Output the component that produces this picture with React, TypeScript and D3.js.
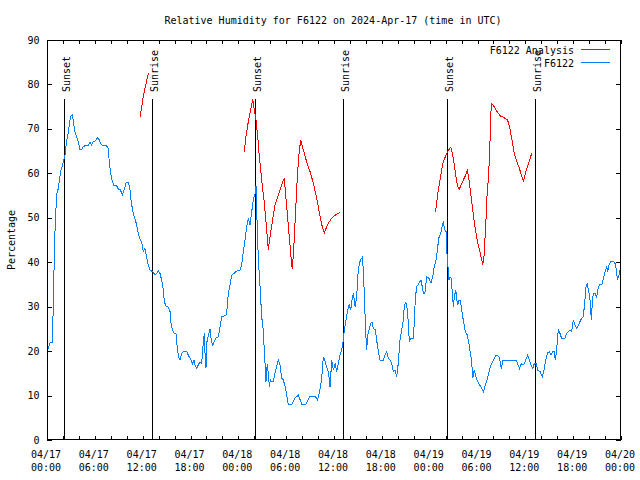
import React from "react";
import * as d3 from "d3";

// ---- data ----
const title = "Relative Humidity for F6122 on 2024-Apr-17 (time in UTC)";
const yLabel = "Percentage";
const seriesNames = ["F6122 Analysis", "F6122"];

// hours since 2024-04-17 00:00 UTC
const xMajorTicks = [0, 6, 12, 18, 24, 30, 36, 42, 48, 54, 60, 66, 72];
const xDateLabels = ["04/17", "04/17", "04/17", "04/17", "04/18", "04/18", "04/18", "04/18", "04/19", "04/19", "04/19", "04/19", "04/20"];
const xTimeLabels = ["00:00", "06:00", "12:00", "18:00", "00:00", "06:00", "12:00", "18:00", "00:00", "06:00", "12:00", "18:00", "00:00"];
const yTicks = [0, 10, 20, 30, 40, 50, 60, 70, 80, 90];

const sunEventHours = [2.15, 13.2, 26.05, 37.15, 50.2, 61.22];
const sunEventLabels = ["Sunset", "Sunrise", "Sunset", "Sunrise", "Sunset", "Sunrise"];

const obsHours = [
  0.08, 0.38, 0.67, 0.75, 0.88, 1.0, 1.13, 1.25, 1.42, 1.59, 1.76, 2.05, 2.26, 2.43, 2.68, 2.84, 3.01, 3.18, 3.34, 3.51,
  3.72, 3.93, 4.14, 4.35, 4.56, 4.77, 5.18, 5.39, 5.6, 5.81, 6.1, 6.36, 6.56, 6.77, 7.07, 7.48, 7.69, 7.82, 7.99, 8.2,
  8.4, 8.74, 8.95, 9.2, 9.45, 9.7, 9.95, 10.2, 10.37, 10.54, 10.7, 10.87, 11.04, 11.25, 11.45, 11.67, 11.88, 12.08, 12.29, 12.5,
  12.71, 12.92, 13.25, 13.55, 13.76, 13.96, 14.17, 14.38, 14.59, 14.72, 14.93, 15.22, 15.43, 15.55, 15.72, 15.93, 16.18, 16.35, 16.52, 16.68,
  16.9, 17.1, 17.52, 17.72, 17.94, 18.15, 18.27, 18.44, 18.56, 18.77, 18.98, 19.19, 19.4, 19.61, 19.73, 19.82, 19.94, 20.03, 20.24, 20.45,
  20.57, 20.78, 20.95, 21.2, 21.49, 21.7, 21.91, 22.45, 22.62, 22.74, 22.96, 23.17, 23.46, 23.8, 24.2, 24.42, 24.62, 24.84, 25.05, 25.25,
  25.46, 25.68, 25.88, 26.1, 26.22, 26.3, 26.5, 26.72, 26.93, 27.13, 27.26, 27.38, 27.47, 27.63, 27.76, 27.89, 28.01, 28.18, 28.39, 28.6,
  28.81, 29.02, 29.23, 29.44, 29.64, 29.94, 30.07, 30.27, 30.69, 31.11, 31.53, 31.95, 32.49, 32.99, 33.62, 33.95, 34.24, 34.46, 34.66, 34.83,
  35.0, 35.33, 35.5, 35.72, 35.92, 36.13, 36.34, 36.54, 36.75, 36.97, 37.17, 37.3, 37.5, 37.71, 37.91, 38.1, 38.26, 38.43, 38.64, 38.85,
  38.97, 39.18, 39.39, 39.55, 39.68, 39.8, 39.98, 40.1, 40.23, 40.6, 40.76, 40.93, 41.18, 41.35, 41.56, 41.77, 42.19, 42.4, 42.61, 42.82,
  43.03, 43.24, 43.44, 43.65, 43.86, 44.06, 44.28, 44.49, 44.69, 44.82, 45.0, 45.2, 45.32, 45.45, 45.62, 45.96, 46.08, 46.21, 46.39, 46.66,
  46.92, 47.21, 47.4, 47.63, 47.9, 48.17, 48.38, 48.58, 48.8, 48.96, 49.14, 49.38, 49.59, 49.71, 49.88, 50.05, 50.13, 50.26, 50.43, 50.55,
  50.7, 50.84, 50.97, 51.1, 51.27, 51.4, 51.52, 51.69, 51.8, 51.94, 52.15, 52.32, 52.48, 52.73, 52.91, 53.07, 53.24, 53.42, 53.58, 53.75,
  53.92, 54.13, 54.34, 54.55, 54.76, 54.97, 55.18, 55.39, 55.6, 55.81, 56.02, 56.23, 56.52, 56.77, 56.98, 57.2, 58.84, 59.09, 59.26, 59.51,
  59.8, 60.05, 60.3, 60.5, 60.71, 60.92, 61.13, 61.35, 61.55, 61.84, 62.13, 62.34, 62.55, 62.76, 63.01, 63.22, 63.43, 63.6, 63.76, 63.93,
  64.13, 64.34, 64.55, 64.97, 65.18, 65.39, 65.6, 65.8, 66.02, 66.23, 66.44, 66.77, 67.06, 67.27, 67.48, 67.61, 67.77, 67.95, 68.12, 68.28,
  68.4, 68.53, 68.74, 68.95, 69.08, 69.28, 69.58, 69.79, 70.0, 70.21, 70.33, 70.5, 70.71, 71.13, 71.34, 71.47, 71.59, 71.76, 71.89,
];
const obsValues = [
  20.1, 21.9, 21.9, 27.4, 38.4, 46.7, 52.1, 55.5, 56.6, 58.9, 60.7, 62.6, 64.1, 66.8, 69.4, 71.6, 72.9, 73.1, 71.3, 69.4,
  68.1, 67.1, 65.3, 65.3, 66.0, 66.2, 66.2, 67.1, 66.4, 67.1, 67.3, 68.1, 67.5, 66.6, 66.2, 66.2, 65.6, 62.3, 60.0, 58.1,
  57.2, 57.2, 56.4, 56.3, 55.1, 56.4, 58.0, 58.0, 56.9, 54.0, 52.1, 50.6, 49.7, 48.4, 46.5, 45.2, 44.5, 42.4, 43.1, 41.0,
  39.4, 38.2, 37.9, 37.1, 37.5, 38.1, 37.5, 36.0, 33.8, 31.1, 30.1, 29.9, 28.9, 26.3, 24.8, 24.0, 24.0, 20.6, 18.7, 18.0,
  19.5, 19.9, 19.9, 19.1, 18.4, 17.6, 17.1, 18.0, 16.9, 16.1, 16.9, 17.6, 17.2, 22.1, 24.0, 19.5, 16.1, 21.8, 23.6, 24.9,
  22.9, 21.1, 22.1, 22.9, 23.2, 25.5, 27.7, 28.1, 30.0, 33.0, 35.0, 37.1, 37.5, 38.0, 38.1, 39.4, 42.4, 45.0, 48.0, 49.9,
  48.4, 51.4, 54.0, 55.5, 57.2, 51.8, 41.2, 34.5, 27.7, 24.8, 19.9, 16.5, 13.1, 17.2, 15.0, 12.0, 13.5, 13.1, 13.1, 15.0,
  16.5, 18.0, 16.9, 13.9, 13.5, 11.6, 10.1, 7.9, 7.9, 9.4, 10.1, 8.1, 8.1, 9.9, 9.9, 9.0, 11.3, 13.9, 18.7, 18.0,
  16.9, 15.0, 12.0, 18.0, 15.7, 17.2, 15.4, 17.2, 19.1, 20.3, 22.5, 24.8, 27.0, 29.3, 30.4, 29.3, 31.5, 33.0, 30.0, 32.2,
  36.7, 39.8, 40.7, 41.1, 38.3, 33.0, 24.0, 20.3, 23.6, 26.3, 26.6, 25.1, 24.8, 22.5, 19.9, 18.0, 18.0, 19.1, 19.9, 18.4,
  18.0, 17.2, 15.4, 15.7, 14.2, 17.2, 22.5, 24.8, 27.0, 30.0, 31.1, 29.3, 26.3, 22.1, 22.9, 22.9, 27.0, 32.2, 34.5, 35.3,
  36.0, 33.0, 33.0, 36.7, 36.4, 35.3, 36.7, 39.0, 40.5, 42.7, 45.4, 46.5, 48.4, 49.0, 47.4, 46.9, 43.1, 39.8, 36.0, 36.7,
  36.4, 33.0, 30.0, 32.2, 33.8, 31.5, 30.4, 31.5, 31.5, 30.4, 27.7, 25.9, 24.4, 23.6, 21.8, 19.9, 18.0, 13.9, 15.7, 14.6,
  13.5, 12.8, 12.2, 11.6, 10.9, 12.4, 13.5, 15.0, 16.5, 17.2, 18.0, 18.9, 19.1, 18.4, 16.1, 18.0, 18.0, 16.9, 16.1, 17.2,
  16.9, 18.0, 19.1, 18.0, 16.9, 16.1, 17.2, 17.2, 15.7, 15.4, 14.2, 15.7, 18.0, 19.5, 19.9, 19.1, 19.9, 19.9, 18.0, 20.3,
  24.8, 24.0, 22.9, 22.9, 24.0, 24.4, 24.8, 24.4, 27.0, 25.9, 25.1, 26.3, 27.4, 27.7, 31.5, 34.5, 35.1, 33.4, 31.5, 27.0,
  30.8, 33.0, 33.0, 32.2, 33.8, 34.9, 34.9, 36.4, 37.9, 39.0, 37.9, 39.4, 40.1, 40.1, 39.4, 37.1, 36.2, 37.1, 38.3,
];

// analysis series (null = gap between runs)
const anaHours = [
  11.67, 12.1, 12.4, 12.71, null,
  24.75, 24.96, 25.25, 25.55, 25.8, 26.01, 26.22, 26.43, 26.63, 26.93, 27.26, 27.56, 27.76, 27.97, 28.26, 28.6, 28.93, 29.23, 29.51, 29.76,
  29.94, 30.14, 30.39, 30.61, 30.77, 30.94, 31.15, 31.36, 31.57, 31.82, 32.15, 32.57, 32.99, 33.41, 33.74, 34.03, 34.33, 34.53, 34.79, 35.08,
  35.41, 35.71, 36.0, 36.4, 36.75, null,
  48.71, 48.88, 49.09, 49.3, 49.51, 49.71, 50.05, 50.34, 50.64, 50.84, 51.05, 51.3, 51.52, 51.72, 51.94, 52.22, 52.52, 52.73, 52.94, 53.15,
  53.4, 53.61, 53.82, 54.03, 54.24, 54.45, 54.66, 54.81, 54.95, 55.08, 55.2, 55.39, 55.52, 55.6, 55.69, 55.81, 56.1, 56.44, 56.86, 57.27,
  57.77, 58.03, 58.32, 58.6, 58.94, 59.26, 59.56, 59.76, 59.96, 60.18, 60.46, 60.8,
];
const anaValues = [
  72.7, 77.5, 80.0, 82.5, null,
  64.9, 68.3, 71.6, 74.3, 76.7, 74.3, 72.0, 68.3, 63.8, 58.5, 53.3, 47.3, 42.8, 45.7, 49.1, 52.9, 54.7, 56.3, 57.8, 58.9,
  55.1, 51.0, 45.7, 41.2, 38.4, 42.8, 50.2, 57.8, 63.8, 67.5, 65.3, 62.6, 60.4, 57.8, 55.1, 52.5, 49.5, 48.0, 46.6, 48.0,
  49.1, 49.9, 50.4, 50.9, 51.2, null,
  51.2, 53.3, 56.3, 58.5, 60.8, 62.6, 64.1, 65.1, 65.9, 64.5, 62.3, 59.2, 57.0, 56.4, 57.4, 58.5, 59.6, 60.6, 58.5, 55.5,
  51.8, 48.8, 46.5, 44.3, 42.8, 41.2, 39.4, 41.2, 45.7, 50.2, 55.1, 59.6, 64.5, 69.0, 73.9, 75.7, 75.0, 73.9, 72.9, 72.6,
  72.0, 70.5, 67.5, 64.5, 62.6, 61.1, 59.2, 58.3, 59.6, 61.1, 62.6, 64.5,
];

const colors = { analysis: "#ff0000", obs: "#0080ff" };

export default function App() {
  const W = 640, H = 480;
  const left = 47, right = 621, top = 40, bottom = 440;
  const font = "'DejaVu Sans Mono', monospace";

  const x = d3.scaleLinear().domain([0, 72]).range([left, right]);
  const y = d3.scaleLinear().domain([0, 90]).range([bottom, top]);
  const minorTicks = d3.range(0, 73, 2);

  const obsData = obsHours.map((h, i) => [h, obsValues[i]] as [number, number]);
  const anaData = anaHours.map((h, i) => [h, anaValues[i]] as [number | null, number | null]);

  const line = d3
    .line<[number | null, number | null]>()
    .defined((d) => d[0] != null && d[1] != null)
    .x((d) => x(d[0] as number))
    .y((d) => y(d[1] as number));

  const markerTopVal = 76.7;

  return (
    <svg width={W} height={H} style={{ display: "block", position: "absolute", left: 0, top: 0, background: "#fff" }}
      fontFamily={font} fontSize={10}>
      <rect x={0} y={0} width={W} height={H} fill="#fff" />
      {/* title */}
      <text x={333} y={24} textAnchor="middle" fill="#000">{title}</text>
      {/* y label */}
      <text transform={`translate(15,240) rotate(-90)`} textAnchor="middle" fill="#000">{yLabel}</text>

      {/* y ticks */}
      {yTicks.map((t) => (
        <g key={"y" + t}>
          <line x1={left} x2={left + 5} y1={Math.round(y(t)) + 0.5} y2={Math.round(y(t)) + 0.5} stroke="#000" shapeRendering="crispEdges" />
          <line x1={right - 5} x2={right} y1={Math.round(y(t)) + 0.5} y2={Math.round(y(t)) + 0.5} stroke="#000" shapeRendering="crispEdges" />
          <text x={left - 7.5} y={y(t) + 3.5} textAnchor="end" fill="#000">{t}</text>
        </g>
      ))}
      {/* x ticks */}
      {minorTicks.map((t) => (
        <g key={"x" + t}>
          <line x1={Math.round(x(t)) + 0.5} x2={Math.round(x(t)) + 0.5} y1={bottom} y2={bottom - 4} stroke="#000" shapeRendering="crispEdges" />
          <line x1={Math.round(x(t)) + 0.5} x2={Math.round(x(t)) + 0.5} y1={top} y2={top + 4} stroke="#000" shapeRendering="crispEdges" />
        </g>
      ))}
      {xMajorTicks.map((t, i) => (
        <g key={"xl" + t}>
          <text x={x(t) - 1} y={458} textAnchor="middle" fill="#000">{xDateLabels[i]}</text>
          <text x={x(t) - 1} y={471} textAnchor="middle" fill="#000">{xTimeLabels[i]}</text>
        </g>
      ))}

      {/* sunrise / sunset markers */}
      {sunEventHours.map((h, i) => {
        const px = Math.round(x(h)) + 0.5;
        return (
          <g key={"s" + i}>
            <line x1={px} x2={px} y1={y(markerTopVal)} y2={bottom} stroke="#000" strokeWidth={1} shapeRendering="crispEdges" />
            <text transform={`translate(${px + 5.5},92) rotate(-90)`} textAnchor="start" fill="#000">{sunEventLabels[i]}</text>
          </g>
        );
      })}

      {/* data */}
      <path d={line(anaData) || ""} fill="none" stroke={colors.analysis} strokeWidth={1} shapeRendering="crispEdges" />
      <path d={line(obsData as any) || ""} fill="none" stroke={colors.obs} strokeWidth={1} shapeRendering="crispEdges" />

      {/* frame */}
      <rect x={left + 0.5} y={top + 0.5} width={right - left - 1} height={bottom - top - 1} fill="none" stroke="#000" shapeRendering="crispEdges" />

      {/* legend */}
      <text x={574} y={54} textAnchor="end" fill="#000">{seriesNames[0]}</text>
      <line x1={581} x2={610} y1={49.5} y2={49.5} stroke={colors.analysis} shapeRendering="crispEdges" />
      <text x={574} y={67} textAnchor="end" fill="#000">{seriesNames[1]}</text>
      <line x1={581} x2={610} y1={62.5} y2={62.5} stroke={colors.obs} shapeRendering="crispEdges" />
    </svg>
  );
}
